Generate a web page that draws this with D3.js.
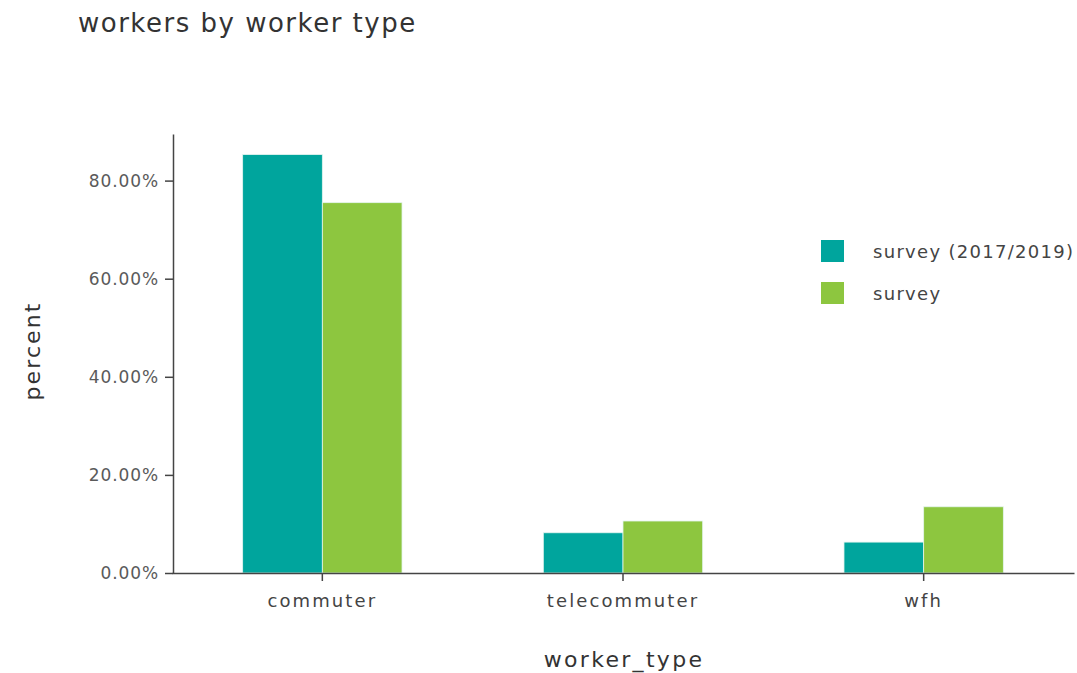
<!DOCTYPE html>
<html><head><meta charset="utf-8">
<script src="https://cdn.jsdelivr.net/npm/d3@7"></script>
<style>body{margin:0;background:#fff;} text{font-family:"DejaVu Sans","Open Sans",sans-serif;}</style>
</head><body>
<svg id="c" width="1077" height="673"></svg>
<script>
const categories = ["commuter", "telecommuter", "wfh"];
const seriesNames = ["survey (2017/2019)", "survey"];
const survey20172019 = [85.3, 8.2, 6.3];
const survey = [75.5, 10.6, 13.5];
const yTicks = [0, 20, 40, 60, 80];
const colors = ["#00A59D", "#8DC63F"];

const svg = d3.select("#c");
const x0 = d3.scaleBand().domain(categories).range([172, 1074]).paddingInner(0.47).paddingOuter(0.235);
const x1 = d3.scaleBand().domain(seriesNames).range([0, x0.bandwidth()]);
const y = d3.scaleLinear().domain([0, 89.5]).range([573, 134]);

const series = [survey20172019, survey];
series.forEach((vals, si) => {
  svg.append("g").selectAll("rect").data(categories).join("rect")
    .attr("x", d => x0(d) + x1(seriesNames[si]))
    .attr("y", (d, i) => y(vals[i]))
    .attr("width", x1.bandwidth())
    .attr("height", (d, i) => y(0) - y(vals[i]))
    .attr("fill", colors[si])
    .attr("stroke", "#e4f4ef").attr("stroke-width", 0.8);
});

const yAxis = svg.append("g").attr("transform", "translate(173,0)")
  .call(d3.axisLeft(y).tickValues(yTicks).tickFormat(d => d.toFixed(2) + "%").tickSize(8).tickSizeOuter(0).tickPadding(6));
yAxis.select(".domain").attr("stroke", "#444").attr("stroke-width", 1.5);
yAxis.selectAll(".tick line").attr("stroke", "#444").attr("stroke-width", 1.5);
yAxis.selectAll(".tick text").attr("font-size", 17).attr("letter-spacing", 0.9).attr("fill", "#5a5a5a").attr("dy", "0.35em");

const xAxis = svg.append("g").attr("transform", "translate(0,573)")
  .call(d3.axisBottom(x0).tickSize(8).tickSizeOuter(0).tickPadding(13));
xAxis.select(".domain").attr("stroke", "#444").attr("stroke-width", 1.5);
xAxis.selectAll(".tick line").attr("stroke", "#444").attr("stroke-width", 1.5);
xAxis.selectAll(".tick text").attr("font-size", 18).attr("letter-spacing", 2.1).attr("fill", "#444");

svg.append("text").attr("x", 78).attr("y", 32).attr("font-size", 26).attr("letter-spacing", 1.5).attr("fill", "#333").text("workers by worker type");
svg.append("text").attr("x", 624).attr("y", 667).attr("text-anchor", "middle").attr("font-size", 22).attr("letter-spacing", 2.3).attr("fill", "#333").text("worker_type");
svg.append("text").attr("transform", "translate(40,351) rotate(-90)").attr("text-anchor", "middle").attr("font-size", 22).attr("letter-spacing", 2.1).attr("fill", "#333").text("percent");

const leg = svg.append("g");
seriesNames.forEach((n, i) => {
  leg.append("rect").attr("x", 821).attr("y", 240 + i * 42).attr("width", 23).attr("height", 22).attr("fill", colors[i]);
  leg.append("text").attr("x", 873).attr("y", 258 + i * 42).attr("font-size", 18).attr("letter-spacing", 1.3).attr("fill", "#444").text(n);
});
</script>
</body></html>
